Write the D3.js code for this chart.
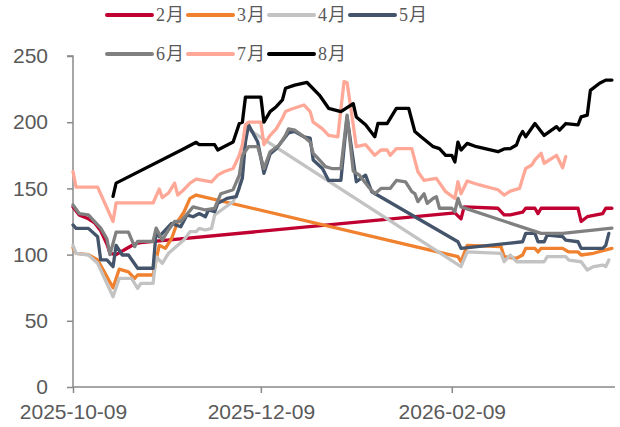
<!DOCTYPE html>
<html>
<head>
<meta charset="utf-8">
<script src="https://cdn.jsdelivr.net/npm/d3@7"></script>
<style>
  html, body { margin: 0; padding: 0; background: #fff; }
  svg { display: block; }
</style>
</head>
<body>
<div id="chart"></div>
<script>
// ---------- DATA (dates as MM-DD; Oct–Dec = 2025, Jan–Apr = 2026) ----------
const seriesNames = ["2月", "3月", "4月", "5月", "6月", "7月", "8月"];
const xTickLabels = ["2025-10-09", "2025-12-09", "2026-02-09"];
const yTickValues = [0, 50, 100, 150, 200, 250];
const xDomain = ["2025-10-09", "2026-04-03"];

const feb = [["10-09",136],["10-11",130],["10-14",127],["10-16",124],["10-18",118],["10-20",108],["10-21",101],["10-23",100],["10-26",104],["10-29",108],["10-31",109],
  ["02-10",131.5],["02-12",127],["02-13",136],["02-24",135],["02-26",130],["02-28",130],["03-04",132],["03-05",135],["03-08",135],["03-09",131],["03-10",135],
  ["03-22",135],["03-23",125],["03-25",128.6],["03-30",131],["03-31",135],["04-02",135]];

const mar = [["10-09",105],["10-10",101],["10-14",100],["10-17",96],["10-22",75],["10-24",89],["10-27",87],["10-29",82],["10-30",84.6],["11-04",84.6],["11-06",107],
  ["11-08",104.7],["11-10",112],["11-12",125],["11-14",132],["11-16",142.5],["11-18",145],
  ["02-11",98.4],["02-12",94.6],["02-14",107],["02-25",106],["02-26",98.4],["03-02",97.2],["03-04",99.7],["03-05",104.7],["03-08",104.7],["03-09",102],["03-10",104.7],
  ["03-17",104.7],["03-19",102],["03-22",102],["03-23",99.7],["03-27",101],["03-31",103.5],["04-02",104.7]];

const apr = [["10-09",107],["10-10",101],["10-14",99.7],["10-17",93.4],["10-22",68.2],["10-24",82],["10-28",82],["10-30",74.5],["10-31",78.3],["11-04",78.3],["11-05",98.4],
  ["11-07",93.4],["11-09",101],["11-11",105],["11-14",111],["11-16",117.3],["11-18",117.3],["11-19",119.8],["11-21",118.6],["11-23",119.8],["11-24",130],["11-27",135],
  ["11-30",140],["12-02",150],["12-03",175],["12-04",196],
  ["02-12",91],["02-14",102],["02-25",101],["02-26",94.6],["02-28",99.7],["03-02",94.6],["03-11",94.6],["03-12",98.4],["03-18",98.4],["03-19",95.9],["03-23",94.6],
  ["03-25",88.4],["03-27",90.9],["03-30",92.1],["03-31",91],["04-01",95.9]];

const may = [["10-09",122.4],["10-10",119.8],["10-14",119.8],["10-17",113.5],["10-18",96],["10-20",96],["10-22",90.9],["10-23",107],["10-25",99.7],["10-27",99.7],
  ["10-30",89.7],["11-04",89.7],["11-05",117.3],["11-06",113.5],["11-10",123.6],["11-13",121],["11-15",130],["11-17",128.6],["11-19",131],["11-21",128.6],["11-22",133.7],
  ["11-24",132.4],["11-25",138.7],["11-28",142.5],["12-01",143.7],["12-03",157.6],["12-04",185],["12-05",198],["12-08",185],["12-10",161.4],["12-12",176],["12-14",180],
  ["12-18",192],["12-20",193],["12-23",189],["12-25",188],["12-26",171.5],["12-29",165],["12-31",156],["01-04",156],["01-06",204],["01-09",155],["01-12",160],
  ["01-14",147.5],
  ["02-11",109.7],["02-12",104.7],["03-04",109.7],["03-05",116],["03-08",116],["03-09",109.7],["03-11",109.7],["03-12",114.8],["03-17",113.5],["03-18",111],
  ["03-22",109.7],["03-23",104.7],["03-30",104.7],["03-31",107],["04-01",116]];

const jun = [["10-09",137.5],["10-11",131],["10-14",130],["10-18",120],["10-20",112],["10-21",100],["10-23",117],["10-27",117],["10-29",106],["10-30",110],["11-04",110],
  ["11-05",120],["11-07",111],["11-09",118.6],["11-11",125],["11-13",125],["11-17",136],["11-21",133.7],["11-24",135],["11-26",146],["11-30",149],["12-02",160],
  ["12-03",175],["12-05",181.5],["12-08",181.5],["12-10",165],["12-12",177.7],["12-15",182.8],["12-17",190],["12-18",195],["12-20",194],["12-23",189],["12-25",185],
  ["12-26",176.5],["12-28",171.5],["12-30",166.4],["01-01",165],["01-04",165],["01-06",205.4],["01-08",163],["01-10",160],["01-13",151],["01-15",146],["01-17",150],
  ["01-20",150],["01-22",156],["01-25",155],["01-27",147.5],["01-28",146],["01-29",140],["01-31",146],["02-01",138.7],["02-03",142.5],["02-04",143.7],["02-05",135],
  ["02-09",135],["02-10",132.4],["02-11",142.5],["02-12",136],["03-10",116],["03-17",116],["04-02",120]];

const jul = [["10-09",162.6],["10-10",151],["10-17",151],["10-22",125],["10-23",139],["11-04",139],["11-06",149.5],["11-07",143],["11-09",146.5],["11-11",154],
  ["11-12",145],["11-14",149],["11-16",154],["11-18",157],["11-23",155],["11-25",160],["11-27",162.6],["11-30",165],["12-02",175],["12-03",183],["12-04",198],
  ["12-05",200],["12-09",200],["12-10",183],["12-12",190],["12-14",195],["12-16",203],["12-17",208],["12-19",210],["12-23",213],["12-25",208],["12-26",200],
  ["12-29",195],["12-31",190],["01-03",189],["01-05",230.6],["01-06",230],["01-08",198],["01-09",181.5],["01-12",183],["01-15",175],["01-17",179],["01-19",179],
  ["01-20",175],["01-22",180],["01-27",180],["01-29",162.6],["01-31",156],["02-04",157.6],["02-07",147.5],["02-10",142.5],["02-11",155],["02-12",146],["02-14",155.6],
  ["02-18",152.6],["02-24",149],["02-26",145],["02-28",148],["03-03",150],["03-04",157.6],["03-05",165],["03-07",167.7],["03-08",171.5],["03-10",176.5],["03-11",169],
  ["03-15",175],["03-17",165.6],["03-18",174]];

const aug = [["10-22",144],["10-23",154],["11-14",180],["11-18",184.8],["11-19",183],["11-24",183],["11-25",179],["11-27",181.5],["11-30",185],["12-02",199],
  ["12-03",200],["12-04",219],["12-09",219],["12-10",200],["12-12",208],["12-14",211.7],["12-16",216.8],["12-17",225.6],["12-20",228],["12-24",230],["12-28",220.5],
  ["12-31",210.5],["01-04",208],["01-08",214],["01-09",204],["01-12",198],["01-15",189],["01-16",199],["01-19",199],["01-22",210.5],["01-26",210.5],["01-28",193],
  ["01-30",189],["02-03",181.5],["02-05",180],["02-07",175],["02-09",175],["02-10",170],["02-11",185],["02-12",179],["02-14",184],["02-17",181.5],["02-24",177.7],
  ["02-26",179.8],["02-28",180],["03-02",182.8],["03-03",189],["03-04",193],["03-05",189],["03-08",199],["03-11",190],["03-15",196.6],["03-16",194],["03-18",199],
  ["03-22",198],["03-23",204],["03-25",205.4],["03-26",224],["03-29",229.4],["03-31",231.8],["04-02",231.8]];

const seriesData = [feb, mar, apr, may, jun, jul, aug];
const seriesColors = ["#C00030", "#F0812F", "#C3C3C3", "#44546A", "#808080", "#FFA897", "#000000"];

// ---------- CHART ----------
const W = 620, H = 427;
const parseMD = md => {
  const m = +md.slice(0, 2);
  return new Date((m >= 10 ? 2025 : 2026), m - 1, +md.slice(3, 5));
};
const parseISO = d3.timeParse("%Y-%m-%d");

const svg = d3.select("#chart").append("svg").attr("width", W).attr("height", H);

const x = d3.scaleTime().domain(xDomain.map(parseISO)).range([73, 615]);
const y = d3.scaleLinear().domain([0, 250]).range([387, 56]);

const axisColor = "#898989";
const tickFont = "'Liberation Sans', Arial, sans-serif";

// y axis
const yAxis = svg.append("g").attr("transform", "translate(73,0)")
  .call(d3.axisLeft(y).tickValues(yTickValues).tickSize(6).tickPadding(19).tickFormat(d3.format("d")));
yAxis.select(".domain").attr("stroke", axisColor).attr("stroke-width", 1.5).attr("d", `M-6,${y(250)}H0V${y(0)}`);
yAxis.selectAll(".tick line").attr("stroke", axisColor).attr("stroke-width", 1.5);
yAxis.selectAll(".tick text").attr("fill", "#595959").style("font-family", tickFont).style("font-size", "21px");

// x axis
const xAxis = svg.append("g").attr("transform", "translate(0,387)")
  .call(d3.axisBottom(x).tickValues(xTickLabels.map(parseISO)).tickSize(6).tickPadding(11).tickFormat(d3.timeFormat("%Y-%m-%d")));
xAxis.select(".domain").attr("stroke", axisColor).attr("stroke-width", 1.5).attr("d", `M73,0H615`);
xAxis.selectAll(".tick line").attr("stroke", axisColor).attr("stroke-width", 1.5);
xAxis.selectAll(".tick text").attr("fill", "#595959").style("font-family", tickFont).style("font-size", "21px");

// lines
const line = d3.line().x(d => x(parseMD(d[0]))).y(d => y(d[1]));
const lines = svg.append("g");
seriesData.forEach((data, i) => {
  lines.append("path")
    .datum(data)
    .attr("d", line)
    .attr("fill", "none")
    .attr("stroke", seriesColors[i])
    .attr("stroke-width", 3.3)
    .attr("stroke-linejoin", "round")
    .attr("stroke-linecap", "round");
});

// legend
const legend = svg.append("g");
const legX = [107, 188, 269, 350];
const legY = [15, 54];
seriesNames.forEach((name, i) => {
  const row = Math.floor(i / 4), col = i % 4;
  const g = legend.append("g").attr("transform", `translate(${legX[col]},${legY[row]})`);
  g.append("line").attr("x1", 0).attr("x2", 45).attr("y1", 0).attr("y2", 0)
    .attr("stroke", seriesColors[i]).attr("stroke-width", 4).attr("stroke-linecap", "round");
  g.append("text").attr("x", 49).attr("y", 0).attr("dy", "0.36em")
    .attr("fill", "#595959")
    .style("font-family", "'Liberation Serif', 'Noto Sans CJK SC', serif")
    .style("font-size", "18px")
    .style("letter-spacing", "1px")
    .text(name);
});
</script>
</body>
</html>
